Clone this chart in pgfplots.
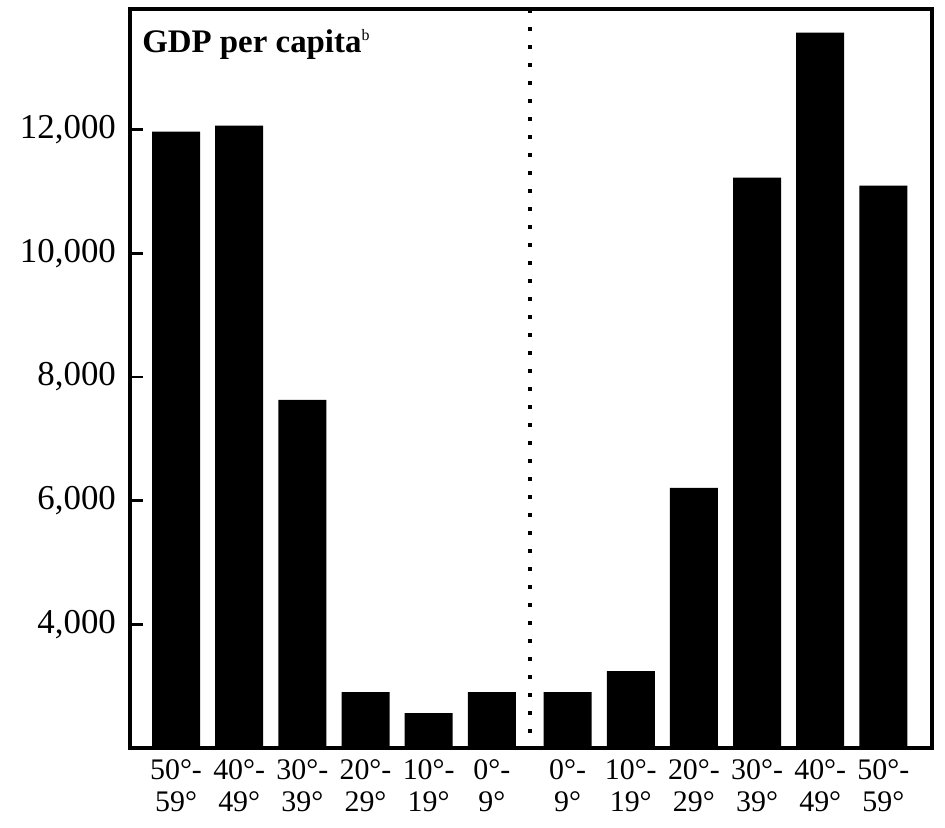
\documentclass[border=0pt]{standalone}
\usepackage{fontspec}
\setmainfont{Liberation Serif}
\usepackage{pgfplots}
\pgfplotsset{compat=1.18}
\begin{document}
\begin{tikzpicture}
\begin{axis}[
    scale only axis,
    width=401bp, height=369.5bp,
    xmin=-0.73, xmax=11.97,
    ymin=2000, ymax=13950,
    axis line style={line width=1.6bp},
    ybar, bar width=0.76,
    ytick={4000,6000,8000,10000,12000},
    scaled y ticks=false,
    ytick pos=left,
    tick align=inside,
    major tick length=6.5bp,
    tick style={line width=1.4bp, black},
    /pgf/number format/assume math mode=true,
    /pgf/number format/1000 sep={,},
    yticklabel style={font=\fontsize{17.5}{19}\selectfont, xshift=-3.5bp},
    xtick={0,1,2,3,4,5,6.2,7.2,8.2,9.2,10.2,11.2},
    xticklabels={{50°-\\59°},{40°-\\49°},{30°-\\39°},{20°-\\29°},{10°-\\19°},{0°-\\9°},
                 {0°-\\9°},{10°-\\19°},{20°-\\29°},{30°-\\39°},{40°-\\49°},{50°-\\59°}},
    xticklabel style={font=\fontsize{15}{16.5}\selectfont, align=center, yshift=-2bp},
    x tick style={draw=none},
    clip=false,
  ]
  \addplot[fill=black, draw=none] coordinates {
    (0,11968) (1,12065) (2,7631) (3,2906) (4,2566) (5,2906)
    (6.2,2906) (7.2,3246) (8.2,6207) (9.2,11223) (10.2,13570) (11.2,11094)
  };
  \addplot[sharp plot, black, line width=2.2bp, dash pattern=on 2.2bp off 6.8bp]
    coordinates {(5.6,13950) (5.6,2000)};
  \node[anchor=base west, font=\bfseries\fontsize{16.5}{18}\selectfont, inner sep=0pt]
    at (rel axis cs:0.015,0.9405) {GDP per capita\textsuperscript{\normalfont\fontsize{8}{9}\selectfont b}};
  \coordinate (bl) at (rel axis cs:-0.162,-0.108);
  \coordinate (tr) at (rel axis cs:1.0162,1.0122);
\end{axis}
\pgfresetboundingbox
\path[use as bounding box] (bl) rectangle (tr);
\end{tikzpicture}
\end{document}
